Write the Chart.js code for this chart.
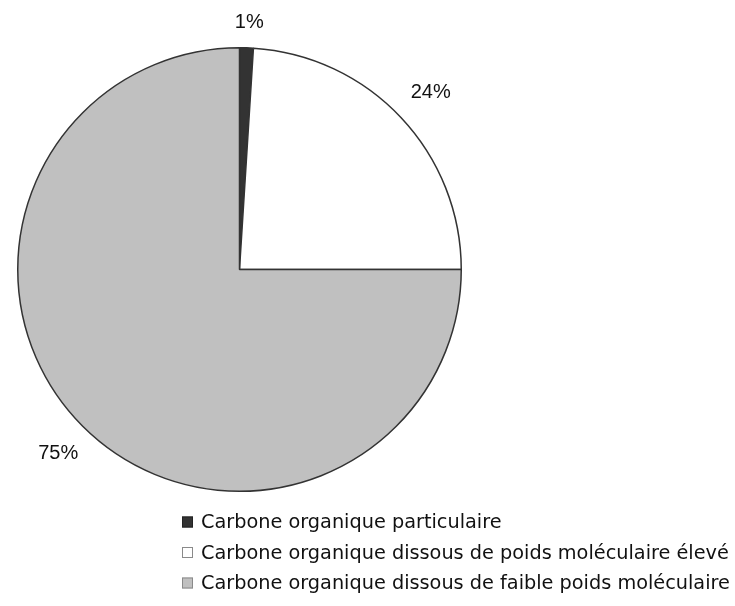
<!DOCTYPE html>
<html>
<head>
<meta charset="utf-8">
<script src="https://cdn.jsdelivr.net/npm/chart.js@4/dist/chart.umd.min.js"></script>
<style>
  html, body { margin: 0; padding: 0; background: #fff; }
  canvas { display: block; }
</style>
</head>
<body>
<canvas id="pie" width="735" height="606"></canvas>
<script>
const categories = [
  'Carbone organique particulaire',
  'Carbone organique dissous de poids moléculaire élevé',
  'Carbone organique dissous de faible poids moléculaire'
];
const shares = [1, 24, 75];
const sliceColors = ['#333333', '#ffffff', '#c0c0c0'];
const swatchBorders = ['#222222', '#8a8a8a', '#8a8a8a'];

// percentage labels just outside each slice
const outsideLabels = {
  id: 'outsideLabels',
  afterDatasetsDraw(chart, args, opts) {
    const ctx = chart.ctx;
    const meta = chart.getDatasetMeta(0);
    ctx.save();
    ctx.font = opts.font;
    ctx.fillStyle = opts.color;
    ctx.textAlign = 'center';
    ctx.textBaseline = 'middle';
    meta.data.forEach((arc, i) => {
      const { x, y, startAngle, endAngle, outerRadius } = arc.getProps(['x', 'y', 'startAngle', 'endAngle', 'outerRadius'], true);
      const mid = (startAngle + endAngle) / 2;
      const text = chart.data.datasets[0].data[i] + '%';
      const w = ctx.measureText(text).width;
      const h = opts.height;
      const cos = Math.cos(mid), sin = Math.sin(mid);
      const dist = outerRadius + opts.gap + Math.abs(cos) * w / 2 + Math.abs(sin) * h / 2;
      ctx.fillText(text, x + cos * dist + 2, y + sin * dist + 1);
    });
    ctx.restore();
  }
};

// stacked legend, left aligned under the pie
const stackedLegend = {
  id: 'stackedLegend',
  afterDraw(chart, args, opts) {
    const ctx = chart.ctx;
    const ds = chart.data.datasets[0];
    ctx.save();
    ctx.font = opts.font;
    ctx.textBaseline = 'middle';
    ctx.textAlign = 'left';
    chart.data.labels.forEach((label, i) => {
      const cy = opts.y + i * opts.rowHeight;
      ctx.fillStyle = ds.backgroundColor[i];
      ctx.fillRect(opts.x, cy - opts.box / 2, opts.box, opts.box);
      ctx.strokeStyle = opts.borders[i];
      ctx.lineWidth = 1;
      ctx.strokeRect(opts.x + 0.5, cy - opts.box / 2 + 0.5, opts.box - 1, opts.box - 1);
      ctx.fillStyle = opts.color;
      ctx.fillText(label, opts.x + opts.box + 8, cy + 1);
    });
    ctx.restore();
  }
};

new Chart(document.getElementById('pie'), {
  type: 'pie',
  data: {
    labels: categories,
    datasets: [{
      data: shares,
      backgroundColor: sliceColors,
      borderColor: '#333333',
      borderWidth: 1.5,
      hoverOffset: 0,
      offset: 0
    }]
  },
  options: {
    responsive: false,
    animation: false,
    events: [],
    layout: { padding: { left: 17, top: 47, right: 273, bottom: 114 } },
    plugins: {
      legend: { display: false },
      tooltip: { enabled: false },
      outsideLabels: { font: '20px "Liberation Sans", Arial, sans-serif', color: '#111', gap: 18, height: 15 },
      stackedLegend: {
        font: '19.3px "DejaVu Sans", sans-serif',
        color: '#111',
        x: 182, y: 522, rowHeight: 30.5, box: 11,
        borders: swatchBorders
      }
    }
  },
  plugins: [outsideLabels, stackedLegend]
});
</script>
</body>
</html>
